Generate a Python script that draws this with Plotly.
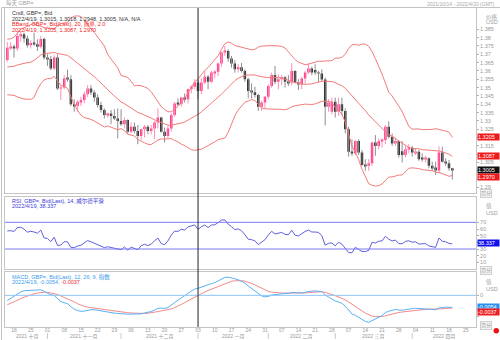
import numpy as np
import pandas as pd
import plotly.graph_objects as go

W, H = 500, 340

# ---------------- data ----------------
# closes before the visible window (Aug 2 - Oct 13 2021), used as indicator warm-up
warmup_close = [
    1.3890, 1.3905, 1.3890, 1.3925, 1.3875, 1.3855, 1.3835, 1.3870, 1.3800, 1.3870,
    1.3830, 1.3740, 1.3735, 1.3640, 1.3625, 1.3730, 1.3750, 1.3735, 1.3700, 1.3770,
    1.3760, 1.3755,
    1.3800, 1.3840, 1.3865, 1.3830, 1.3770, 1.3760, 1.3835, 1.3840, 1.3835, 1.3815,
    1.3805, 1.3780, 1.3730, 1.3665, 1.3660, 1.3680, 1.3735, 1.3675, 1.3705, 1.3545,
    1.3410, 1.3475,
    1.3535, 1.3610, 1.3615, 1.3590, 1.3610, 1.3620, 1.3595, 1.3615, 1.3665,
]

open_ = [
    1.3665, 1.3740, 1.3745, 1.3735, 1.3810, 1.3820, 1.3795, 1.3755, 1.3768, 1.3760, 1.3745, 1.3792,
    1.3680, 1.3672, 1.3615, 1.3680, 1.3495, 1.3500, 1.3555, 1.3550, 1.3400, 1.3390, 1.3415, 1.3425,
    1.3460, 1.3495, 1.3470, 1.3440, 1.3395, 1.3365, 1.3335, 1.3345, 1.3330, 1.3315,
    1.3300, 1.3280, 1.3305, 1.3235, 1.3265, 1.3240, 1.3210, 1.3250, 1.3265, 1.3240, 1.3255, 1.3290,
    1.3320, 1.3235, 1.3210, 1.3255, 1.3335, 1.3405, 1.3400, 1.3440, 1.3430, 1.3490, 1.3505,
    1.3530, 1.3480, 1.3530, 1.3565, 1.3535, 1.3590, 1.3595, 1.3645, 1.3712, 1.3720, 1.3675, 1.3645,
    1.3610, 1.3622, 1.3600, 1.3550, 1.3480, 1.3472, 1.3455, 1.3385, 1.3410,
    1.3445, 1.3510, 1.3575, 1.3535, 1.3550, 1.3562, 1.3535, 1.3530, 1.3600, 1.3530, 1.3520, 1.3555,
    1.3590, 1.3615, 1.3605, 1.3590, 1.3585, 1.3548, 1.3385, 1.3355,
    1.3415, 1.3355, 1.3400, 1.3360, 1.3250, 1.3115, 1.3105, 1.3180, 1.3110, 1.3035, 1.3030, 1.3045,
    1.3170, 1.3150, 1.3180, 1.3185, 1.3265, 1.3205, 1.3165, 1.3180, 1.3118, 1.3095, 1.3130,
    1.3138, 1.3110, 1.3115, 1.3075, 1.3070, 1.3075, 1.3030, 1.3020, 1.3002, 1.3110, 1.3055, 1.3045,
    1.3015,
]
high = [
    1.3773, 1.3772, 1.3758, 1.3832, 1.3834, 1.3830, 1.3812, 1.3785, 1.3830, 1.3790, 1.3810, 1.3800,
    1.3700, 1.3690, 1.3695, 1.3700, 1.3515, 1.3575, 1.3608, 1.3575, 1.3430, 1.3425, 1.3445, 1.3475,
    1.3515, 1.3515, 1.3485, 1.3460, 1.3415, 1.3375, 1.3350, 1.3365, 1.3370, 1.3375,
    1.3370, 1.3320, 1.3310, 1.3290, 1.3290, 1.3275, 1.3255, 1.3275, 1.3275, 1.3275, 1.3300, 1.3375,
    1.3325, 1.3260, 1.3270, 1.3345, 1.3415, 1.3435, 1.3445, 1.3465, 1.3495, 1.3515, 1.3550,
    1.3545, 1.3555, 1.3600, 1.3575, 1.3600, 1.3605, 1.3650, 1.3715, 1.3750, 1.3730, 1.3690, 1.3665,
    1.3640, 1.3648, 1.3610, 1.3560, 1.3525, 1.3505, 1.3462, 1.3420, 1.3450,
    1.3520, 1.3590, 1.3630, 1.3580, 1.3575, 1.3570, 1.3575, 1.3645, 1.3605, 1.3550, 1.3565, 1.3600,
    1.3645, 1.3625, 1.3640, 1.3600, 1.3610, 1.3560, 1.3430, 1.3440,
    1.3440, 1.3440, 1.3440, 1.3375, 1.3265, 1.3190, 1.3185, 1.3190, 1.3125, 1.3070, 1.3070, 1.3175,
    1.3215, 1.3195, 1.3195, 1.3275, 1.3298, 1.3225, 1.3200, 1.3185, 1.3180, 1.3150, 1.3160,
    1.3150, 1.3135, 1.3125, 1.3105, 1.3090, 1.3080, 1.3055, 1.3055, 1.3148, 1.3145, 1.3075, 1.3065,
    1.3018,
]
low = [
    1.3655, 1.3725, 1.3680, 1.3720, 1.3775, 1.3770, 1.3740, 1.3735, 1.3750, 1.3720, 1.3735, 1.3668,
    1.3630, 1.3605, 1.3605, 1.3485, 1.3425, 1.3490, 1.3535, 1.3390, 1.3355, 1.3355, 1.3390, 1.3405,
    1.3445, 1.3455, 1.3415, 1.3380, 1.3350, 1.3315, 1.3320, 1.3280, 1.3305, 1.3195,
    1.3270, 1.3255, 1.3220, 1.3225, 1.3225, 1.3160, 1.3185, 1.3200, 1.3220, 1.3220, 1.3190, 1.3255,
    1.3230, 1.3170, 1.3195, 1.3235, 1.3325, 1.3390, 1.3385, 1.3410, 1.3405, 1.3465, 1.3490,
    1.3430, 1.3460, 1.3520, 1.3490, 1.3525, 1.3555, 1.3570, 1.3625, 1.3690, 1.3655, 1.3620, 1.3590,
    1.3590, 1.3590, 1.3535, 1.3435, 1.3435, 1.3440, 1.3360, 1.3360, 1.3375,
    1.3430, 1.3500, 1.3520, 1.3490, 1.3515, 1.3500, 1.3510, 1.3515, 1.3525, 1.3485, 1.3490, 1.3525,
    1.3580, 1.3575, 1.3575, 1.3535, 1.3540, 1.3272, 1.3355, 1.3340,
    1.3320, 1.3330, 1.3335, 1.3225, 1.3085, 1.3090, 1.3095, 1.3095, 1.3030, 1.3000, 1.3000, 1.3030,
    1.3090, 1.3130, 1.3140, 1.3160, 1.3195, 1.3150, 1.3150, 1.3080, 1.3050, 1.3080, 1.3105,
    1.3085, 1.3095, 1.3060, 1.3055, 1.3050, 1.3015, 1.3000, 1.2975, 1.2985, 1.3050, 1.3030, 1.3000,
    1.2948,
]
close = [
    1.3740, 1.3745, 1.3735, 1.3810, 1.3820, 1.3795, 1.3755, 1.3768, 1.3760, 1.3745, 1.3792, 1.3680,
    1.3672, 1.3615, 1.3680, 1.3495, 1.3500, 1.3555, 1.3550, 1.3400, 1.3390, 1.3415, 1.3425, 1.3460,
    1.3495, 1.3470, 1.3440, 1.3395, 1.3365, 1.3335, 1.3345, 1.3330, 1.3315, 1.3300,
    1.3280, 1.3305, 1.3235, 1.3265, 1.3240, 1.3210, 1.3250, 1.3265, 1.3240, 1.3255, 1.3290, 1.3320,
    1.3235, 1.3210, 1.3255, 1.3335, 1.3405, 1.3400, 1.3440, 1.3430, 1.3490, 1.3505, 1.3530,
    1.3480, 1.3530, 1.3565, 1.3535, 1.3590, 1.3595, 1.3645, 1.3712, 1.3720, 1.3675, 1.3645, 1.3610,
    1.3622, 1.3600, 1.3550, 1.3480, 1.3472, 1.3455, 1.3385, 1.3410, 1.3445,
    1.3510, 1.3575, 1.3535, 1.3550, 1.3562, 1.3535, 1.3530, 1.3600, 1.3530, 1.3520, 1.3555, 1.3590,
    1.3615, 1.3590, 1.3590, 1.3585, 1.3548, 1.3385, 1.3410, 1.3415,
    1.3355, 1.3400, 1.3360, 1.3250, 1.3115, 1.3105, 1.3180, 1.3110, 1.3035, 1.3030, 1.3045, 1.3170,
    1.3150, 1.3180, 1.3185, 1.3265, 1.3205, 1.3165, 1.3180, 1.3095, 1.3095, 1.3130, 1.3138,
    1.3110, 1.3115, 1.3070, 1.3070, 1.3075, 1.3030, 1.3020, 1.3002, 1.3110, 1.3055, 1.3045, 1.3015,
    1.3005,
]

first_day = "2021-10-14"
calendar_end = "2022-04-29"

tick_dates = [
    "2021-10-18", "2021-10-25", "2021-11-01", "2021-11-08", "2021-11-15", "2021-11-22", "2021-11-29",
    "2021-12-06", "2021-12-13", "2021-12-20", "2021-12-27", "2022-01-03", "2022-01-10", "2022-01-17",
    "2022-01-24", "2022-01-31", "2022-02-07", "2022-02-14", "2022-02-21", "2022-02-28", "2022-03-07",
    "2022-03-14", "2022-03-21", "2022-03-28", "2022-04-04", "2022-04-11", "2022-04-18", "2022-04-25",
]
tick_labels = ["18", "25", "01", "08", "15", "22", "29", "06", "13", "20", "27", "03", "10", "17",
               "24", "31", "07", "14", "21", "28", "07", "14", "21", "28", "04", "11", "18", "25"]

month_labels = ["2021 十月", "2021 十一月", "2021 十二月", "2022 一月", "2022 二月", "2022 三月", "2022 四月"]
month_starts = ["2021-10-14", "2021-11-01", "2021-12-01", "2022-01-03", "2022-02-01", "2022-03-01", "2022-04-01"]
year_start = "2022-01-03"

price_ticks = [1.385, 1.38, 1.375, 1.37, 1.365, 1.36, 1.355, 1.35, 1.345, 1.34, 1.335, 1.33,
               1.325, 1.32, 1.315, 1.31, 1.305, 1.30, 1.295, 1.29]
price_tick_labels = ["1.385", "1.38", "1.375", "1.37", "1.365", "1.36", "1.355", "1.35", "1.345",
                     "1.34", "1.335", "1.33", "1.325", "1.32", "1.315", "1.31", "1.305", "1.30",
                     "1.295", "1.29"]
rsi_ticks = [70, 60, 50, 40, 30, 20, 10]
rsi_tick_labels = ["70", "60", "50", "40", "30", "20", "10"]
rsi_levels = [70, 30]
macd_ticks = [0, -0.01]
macd_tick_labels = ["0", "-0.01"]

last_date_text = "2022/4/19"
bb_values = [1.3205, 1.3087, 1.2970]
last_close = 1.3005
rsi_last = 38.337
macd_last = [-0.0054, -0.0037]

# ---------------- indicators ----------------
s_all = pd.Series(warmup_close + close)
nw = len(warmup_close)
mid = s_all.rolling(20).mean()
sd = s_all.rolling(20).std(ddof=0)
bb_up = (mid + 2 * sd).iloc[nw:].to_numpy()
bb_mid = mid.iloc[nw:].to_numpy()
bb_lo = (mid - 2 * sd).iloc[nw:].to_numpy()

delta = s_all.diff()
gain = delta.clip(lower=0).ewm(alpha=1 / 14, adjust=False).mean()
loss = (-delta.clip(upper=0)).ewm(alpha=1 / 14, adjust=False).mean()
rsi = (100 - 100 / (1 + gain / loss)).iloc[nw:].to_numpy()

ema12 = s_all.ewm(span=12, adjust=False).mean()
ema26 = s_all.ewm(span=26, adjust=False).mean()
macd_all = ema12 - ema26
signal_all = macd_all.ewm(span=9, adjust=False).mean()
macd = macd_all.iloc[nw:].to_numpy()
signal = signal_all.iloc[nw:].to_numpy()

# ---------------- positions ----------------
calendar = pd.bdate_range(first_day, calendar_end)
cal_idx = {d: i for i, d in enumerate(calendar)}
n = len(close)
xi = np.arange(n)
o = np.array(open_); h = np.array(high); l = np.array(low); c = np.array(close)
up = c >= o

def py(px):
    return 1 - px / H

X0, X1 = 5 / W, 476 / W
XR = [-0.69, 140.07]
P_PX, R_PX, M_PX = (7.5, 193), (197, 269), (272, 327)
P_DOM = [py(P_PX[1]), py(P_PX[0])]
R_DOM = [py(R_PX[1]), py(R_PX[0])]
M_DOM = [py(M_PX[1]), py(M_PX[0])]
P_RANGE = [1.2867, 1.3981]
R_RANGE = [0, 108]
M_RANGE = [-0.0148, 0.0109]

# tag positions (value units) on the right axes
price_tags = [(bb_values[0], "#f01818"), (bb_values[1], "#f01818"), (last_close, "#111111"),
              (bb_values[2] - 0.0005, "#f01818")]
price_tag_text = [f"{bb_values[0]:.4f}", f"{bb_values[1]:.4f}", f"{last_close:.4f}", f"{bb_values[2]:.4f}"]
macd_tag_pos = [macd_last[0] - 0.0002, macd_last[0] - 0.0025]

def hide_under(ticks, labels, tagvals, rng, px_span, gap=4.5):
    ppu = px_span / (rng[1] - rng[0])
    out = []
    for t, lab in zip(ticks, labels):
        out.append("" if any(abs(t - v) * ppu < gap for v in tagvals) else lab)
    return out

price_ticktext = hide_under(price_ticks, price_tick_labels, [p for p, _ in price_tags], P_RANGE, P_PX[1] - P_PX[0])
rsi_ticktext = hide_under(rsi_ticks, rsi_tick_labels, [rsi_last], R_RANGE, R_PX[1] - R_PX[0])
macd_ticktext = hide_under(macd_ticks, macd_tick_labels, macd_tag_pos, M_RANGE, M_PX[1] - M_PX[0])

UP = "#ff1a75"
DOWN = "#111111"
GRAYTXT = "#9a9a9a"
FONT = "Liberation Sans, Noto Sans CJK SC, sans-serif"

fig = go.Figure()

def wick_trace(mask, color):
    xs, ys = [], []
    for i in xi[mask]:
        xs += [i, i, None]
        ys += [l[i], h[i], None]
    return go.Scatter(x=xs, y=ys, mode="lines", line=dict(color=color, width=1),
                      xaxis="x", yaxis="y", hoverinfo="skip")

fig.add_trace(wick_trace(~up, "#8f8f8f"))
fig.add_trace(wick_trace(up, "#ff8fb8"))
for mask, col in [(up, UP), (~up, DOWN)]:
    base = np.minimum(o, c)[mask]
    hgt = np.maximum(np.abs(c - o)[mask], 0.00025)
    fig.add_trace(go.Bar(x=xi[mask], y=hgt, base=base, width=0.72, marker=dict(color=col, line=dict(width=0)),
                         xaxis="x", yaxis="y", hoverinfo="skip"))
for band in (bb_up, bb_mid, bb_lo):
    fig.add_trace(go.Scatter(x=xi, y=band, mode="lines", line=dict(color="#f47a7a", width=1),
                             xaxis="x", yaxis="y", hoverinfo="skip"))

fig.add_trace(go.Scatter(x=xi, y=rsi, mode="lines", line=dict(color="#6060dc", width=1),
                         xaxis="x2", yaxis="y2", hoverinfo="skip"))
fig.add_trace(go.Scatter(x=xi, y=signal, mode="lines", line=dict(color="#f38a8a", width=1),
                         xaxis="x3", yaxis="y3", hoverinfo="skip"))
fig.add_trace(go.Scatter(x=xi, y=macd, mode="lines", line=dict(color="#5ab0f5", width=1),
                         xaxis="x3", yaxis="y3", hoverinfo="skip"))

axis_common = dict(showgrid=False, zeroline=False, showline=True, mirror=True,
                   linecolor="#c4c4c4", linewidth=1)
tickvals_x = [cal_idx[pd.Timestamp(d)] for d in tick_dates]

layout = dict(
    width=W, height=H, margin=dict(l=0, r=0, t=0, b=0),
    paper_bgcolor="white", plot_bgcolor="white", showlegend=False, barmode="overlay",
    hovermode=False, font=dict(family=FONT, size=6, color=GRAYTXT),
    xaxis=dict(domain=[X0, X1], range=XR, anchor="y", showticklabels=False, ticks="", **axis_common),
    xaxis2=dict(domain=[X0, X1], range=XR, anchor="y2", matches="x", showticklabels=False, ticks="", **axis_common),
    xaxis3=dict(domain=[X0, X1], range=XR, anchor="y3", matches="x", tickvals=tickvals_x, ticktext=tick_labels,
                ticks="", ticklabelstandoff=-2, tickfont=dict(size=5, color=GRAYTXT), **axis_common),
    yaxis=dict(domain=P_DOM, range=P_RANGE, anchor="x", side="right", tickvals=price_ticks,
               ticktext=price_ticktext, ticks="outside", ticklen=2, tickcolor="#b0b0b0",
               tickfont=dict(size=5.5, color=GRAYTXT), **axis_common),
    yaxis2=dict(domain=R_DOM, range=R_RANGE, anchor="x2", side="right", tickvals=rsi_ticks,
                ticktext=rsi_ticktext, ticks="outside", ticklen=2, tickcolor="#b0b0b0",
                tickfont=dict(size=5.5, color=GRAYTXT), **axis_common),
    yaxis3=dict(domain=M_DOM, range=M_RANGE, anchor="x3", side="right", tickvals=macd_ticks,
                ticktext=macd_ticktext, ticks="outside", ticklen=2, tickcolor="#b0b0b0",
                tickfont=dict(size=5.5, color=GRAYTXT), **axis_common),
)
fig.update_layout(**layout)

shapes = []
for lv in rsi_levels:
    shapes.append(dict(type="line", xref="x2 domain", yref="y2", x0=0, x1=1, y0=lv, y1=lv,
                       line=dict(color="#7b7bf5", width=1)))
shapes.append(dict(type="line", xref="x3 domain", yref="y3", x0=0, x1=1, y0=0, y1=0,
                   line=dict(color="#8cc6f5", width=1)))
yr = cal_idx[pd.Timestamp(year_start)]
shapes.append(dict(type="line", xref="x", yref="paper", x0=yr, x1=yr, y0=py(327), y1=py(7.5),
                   line=dict(color="#222222", width=1)))
month_pos = [cal_idx[pd.Timestamp(d)] for d in month_starts]
for mp in month_pos[1:]:
    shapes.append(dict(type="line", xref="x3", yref="paper", x0=mp, x1=mp, y0=py(339), y1=py(333),
                       line=dict(color="#c8c8c8", width=1)))
shapes.append(dict(type="line", xref="paper", yref="paper", x0=0.003, x1=0.003, y0=0, y1=py(7.5),
                   line=dict(color="#c4c4c4", width=1)))
shapes.append(dict(type="line", xref="paper", yref="paper", x0=0.003, x1=1, y0=py(7.5), y1=py(7.5),
                   line=dict(color="#c4c4c4", width=1)))
shapes.append(dict(type="circle", xref="paper", yref="paper", x0=493.5 / W, x1=499 / W,
                   y0=py(333.5), y1=py(328), fillcolor="#ee1111", line=dict(width=0)))
fig.update_layout(shapes=shapes)

ann = []
def txt(x_px, y_px, text, color, size=5.5, xanchor="left"):
    ann.append(dict(x=x_px / W, y=py(y_px), xref="paper", yref="paper", text=text, showarrow=False,
                    xanchor=xanchor, yanchor="middle", font=dict(size=size, color=color, family=FONT)))

txt(4, 3.5, "每天 GBP=", "#a0a0a0", 5.5)
txt(497, 4, "2021/10/14 - 2022/4/20 (GMT)", "#a8a8a8", 5, "right")
txt(10, 13, "Cndl, GBP=, Bid", "#333333")
txt(10, 18.5, f"{last_date_text}, {open_[-1]:.4f}, {high[-1]:.4f}, {low[-1]:.4f}, {close[-1]:.4f}, N/A, N/A", "#333333")
txt(10, 24, "BBand, GBP=, Bid(Last), 20, 简单, 2.0", "#f02020")
txt(10, 29.5, f"{last_date_text}, " + ", ".join(f"{v:.4f}" for v in bb_values), "#f02020")
txt(10, 200.5, "RSI, GBP=, Bid(Last), 14, 威尔德平滑", "#3a3ad8")
txt(10, 206, f"{last_date_text}, {rsi_last:.3f}", "#3a3ad8")
txt(10, 276.5, "MACD, GBP=, Bid(Last), 12, 26, 9, 指数", "#3a9af0")
txt(10, 282, f"{last_date_text}, {macd_last[0]:.4f}, <span style='color:#f03030'>{macd_last[1]:.4f}</span>", "#3a9af0")

# axis titles
txt(484, 16.5, "价格", "#a0a0a0", 5.5)
txt(484, 22.5, "USD", "#a0a0a0", 5.5)
txt(484, 206.5, "值", "#a0a0a0", 5.5)
txt(484, 213, "USD", "#a0a0a0", 5.5)
txt(484, 282, "值", "#a0a0a0", 5.5)
txt(484, 288.5, "USD", "#a0a0a0", 5.5)
for ypx in (193, 270, 325.5):
    ann.append(dict(x=480 / W, y=py(ypx), xref="paper", yref="paper", text="百分", showarrow=False,
                    xanchor="left", yanchor="middle", bordercolor="#cfcfcf", borderwidth=1, borderpad=0,
                    bgcolor="#f4f4f4", font=dict(size=5, color="#a0a0a0", family=FONT)))

# month labels
bounds = month_pos + [XR[1]]
for k, name in enumerate(month_labels):
    a = max(bounds[k], XR[0]); b = bounds[k + 1]
    ann.append(dict(x=(a + b) / 2, y=py(336.5), xref="x3", yref="paper", text=name, showarrow=False,
                    xanchor="center", yanchor="middle", font=dict(size=5, color=GRAYTXT, family=FONT)))

# value tags on right axis
def tag(yval, yref, text, bg, fg="white"):
    ann.append(dict(x=X1 + 1 / W, y=yval, xref="paper", yref=yref, text=text, showarrow=False,
                    xanchor="left", yanchor="middle", bgcolor=bg, width=21, align="left", borderpad=0,
                    font=dict(size=5.5, color=fg, family=FONT)))

for (pv, col), t in zip(price_tags, price_tag_text):
    tag(pv, "y", t, col)
tag(rsi_last, "y2", f"{rsi_last:.3f}", "#1010ee")
tag(macd_tag_pos[0], "y3", f"{macd_last[0]:.4f}", "#2a8ef0")
tag(macd_tag_pos[1], "y3", f"{macd_last[1]:.4f}", "#f02020")

fig.update_layout(annotations=ann)
fig.write_html("out.html")
